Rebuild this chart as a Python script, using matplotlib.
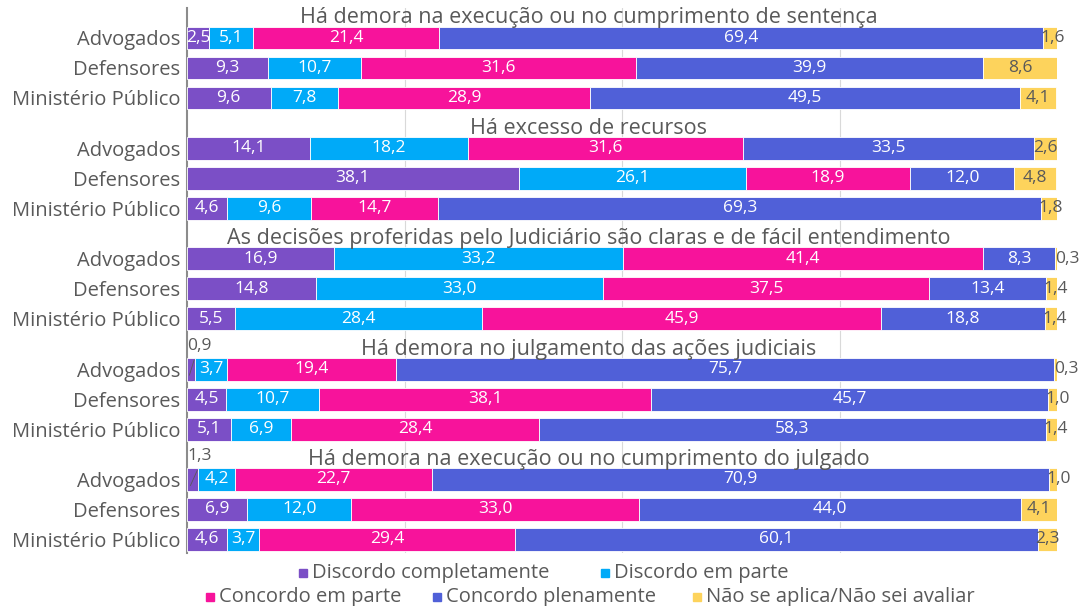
import matplotlib
matplotlib.use('Agg')
import matplotlib.pyplot as plt
import numpy as np

# Data
groups = [
    'Há demora na execução ou no cumprimento de sentença',
    'Há excesso de recursos',
    'As decisões proferidas pelo Judiciário são claras e de fácil entendimento',
    'Há demora no julgamento das ações judiciais',
    'Há demora na execução ou no cumprimento do julgado',
]
respondents = ['Advogados', 'Defensores', 'Ministério Público']
series = ['Discordo completamente', 'Discordo em parte', 'Concordo em parte',
          'Concordo plenamente', 'Não se aplica/Não sei avaliar']

# one row per (group, respondent), columns follow `series`
values = [
    [2.5, 5.1, 21.4, 69.4, 1.6],
    [9.3, 10.7, 31.6, 39.9, 8.6],
    [9.6, 7.8, 28.9, 49.5, 4.1],
    [14.1, 18.2, 31.6, 33.5, 2.6],
    [38.1, 26.1, 18.9, 12.0, 4.8],
    [4.6, 9.6, 14.7, 69.3, 1.8],
    [16.9, 33.2, 41.4, 8.3, 0.3],
    [14.8, 33.0, 37.5, 13.4, 1.4],
    [5.5, 28.4, 45.9, 18.8, 1.4],
    [0.9, 3.7, 19.4, 75.7, 0.3],
    [4.5, 10.7, 38.1, 45.7, 1.0],
    [5.1, 6.9, 28.4, 58.3, 1.4],
    [1.3, 4.2, 22.7, 70.9, 1.0],
    [6.9, 12.0, 33.0, 44.0, 4.1],
    [4.6, 3.7, 29.4, 60.1, 2.3],
]
colors = ['#7b4fc6', '#00aaf8', '#f7139b', '#5060d8', '#fdd35c']

plt.rcParams['font.family'] = ['Open Sans', 'DejaVu Sans']
gray = '#595959'
vfs = 12.5  # value label size

fig = plt.figure(figsize=(10.85, 6.06), dpi=100)
ax = fig.add_axes([0.1724, 0.0875, 0.8018, 0.8993])

group_step = 3.68
vals = np.array(values)
ypos = []
for g in range(len(groups)):
    for i in range(len(respondents)):
        ypos.append(g * group_step + i)
ypos = np.array(ypos)

left = np.zeros(len(vals))
for s in range(len(series)):
    w = vals[:, s]
    ax.barh(ypos, w, left=left, height=0.76, color=colors[s],
            edgecolor='white', linewidth=0.6, label=series[s], zorder=3)
    for y, l, v in zip(ypos, left, w):
        txt = f'{v:.1f}'.replace('.', ',')
        tc = gray if s == 4 else 'white'
        if v < 1.0 or (s == 0 and v < 2):
            if s == 0:
                ax.plot([l + v * 0.3, l + v * 0.9], [y + 0.2, y - 0.3],
                        color=gray, lw=0.6, zorder=4)
                ax.text(l + 0.05, y - 0.5, txt, ha='left', va='bottom',
                        fontsize=vfs, color=gray, zorder=5)
            else:
                ax.text(l, y, txt, ha='left', va='center', fontsize=vfs,
                        color=gray, zorder=5)
        elif s == 4 and v < 2:
            ax.text(l - 0.3, y, txt, ha='left', va='center', fontsize=vfs,
                    color=gray, zorder=5)
        else:
            ax.text(l + v / 2, y, txt, ha='center', va='center',
                    fontsize=vfs, color=tc, zorder=5)
    left = left + w

# group titles
for g, title in enumerate(groups):
    ax.text(46.2, g * group_step - 0.67, title, ha='center', va='center',
            fontsize=15.5, color=gray, zorder=6)

ax.set_yticks(ypos)
ax.set_yticklabels(respondents * len(groups), fontsize=14.5, color=gray)
ax.tick_params(axis='y', length=0, pad=5)
ax.set_xticks([25, 50, 75])
ax.tick_params(axis='x', length=0, labelbottom=False)
ax.grid(axis='x', color='#d9d9d9', lw=0.8, zorder=0)
ax.set_xlim(0, 100)
ax.set_ylim(17.17, -1.0)
for sp in ['top', 'right', 'bottom']:
    ax.spines[sp].set_visible(False)
ax.spines['left'].set_color('#8c8c8c')
ax.spines['left'].set_linewidth(1.5)

# legend, wrapped like the original
legend_pos = [(303, 573), (605, 573), (210, 597), (437, 597), (697, 597)]
for s, (px, py) in enumerate(legend_pos):
    fx = px / 1085
    fy = 1 - py / 606
    fig.patches.append(plt.Rectangle((fx - 0.0035, fy - 0.006), 0.007, 0.0125,
                                     transform=fig.transFigure,
                                     color=colors[s], figure=fig))
    fig.text(fx + 0.008, fy, series[s], ha='left', va='center',
             fontsize=14.5, color=gray)

plt.savefig('out.png', dpi=100)
